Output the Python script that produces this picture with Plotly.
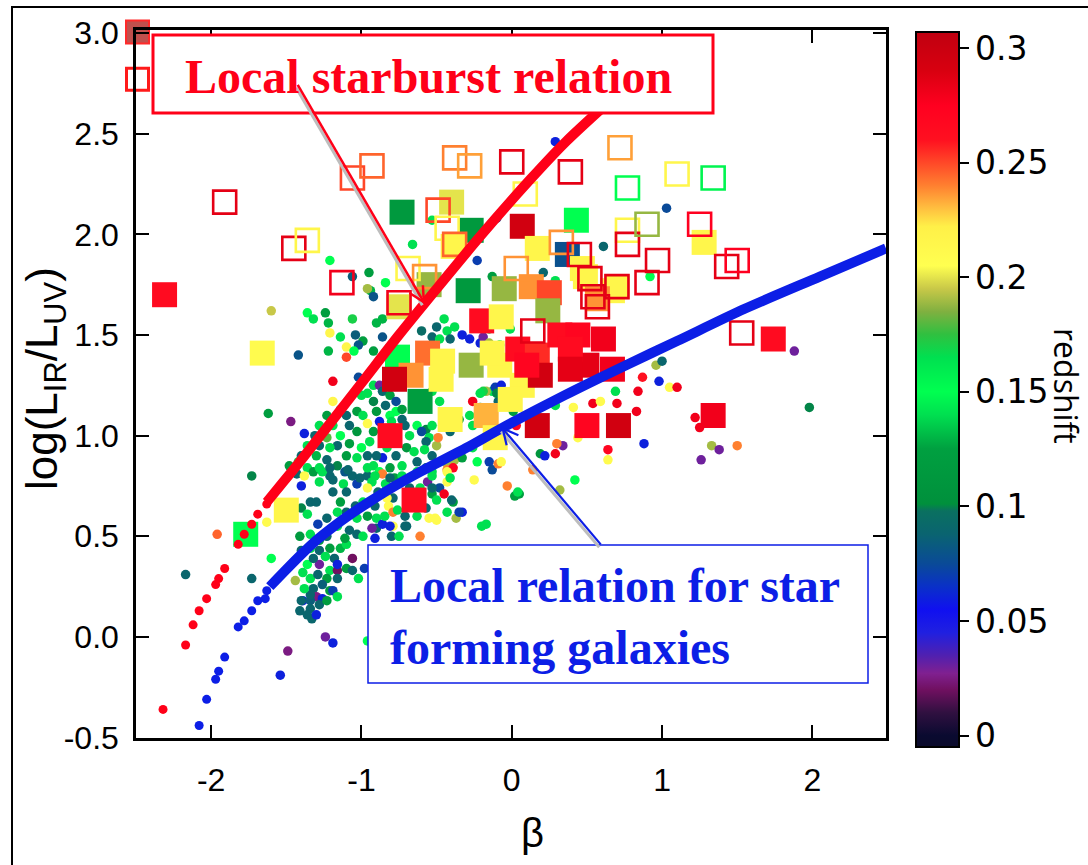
import math
import plotly.graph_objects as go

# ---------------- data ----------------
# SDSS-like comparison sample (small dots): UV slope, log(L_IR/L_UV), redshift
dot_beta = [
    -1.60, -1.36, -1.32, -1.24, -1.22, -1.21, -1.06, -1.04, -0.99, -1.02,
    -1.10, -1.05, -1.10, -1.22, -1.42, -1.19, -1.19, -1.02, -1.62, -1.47,
    -1.38, -0.90, -0.86, -0.86, -0.95, -1.06, -0.84, -0.94, -0.92, -0.60,
    -0.53, -1.00, -0.96, -0.92, -0.88, -0.86, -0.81, -0.77, -0.92, -0.90,
    -0.84, -0.81, -0.77, -0.73, -1.03, -0.99, -1.08, -1.03, -0.96, -0.92,
    -0.88, -0.945, -1.00, -1.08, -1.14, -1.16, -1.21, -1.23, -1.28, -1.30,
    -1.23, -1.16, -1.10, -1.03, -0.96, -0.92, -0.88, -1.11, -1.36, -1.32,
    -1.43, -1.73, -0.86, -0.70, -0.65, -0.68, -0.71, -0.63, -0.57, -0.53,
    -0.60, -0.55, -0.57, -0.50, -0.58, -0.63, -0.53, -2.17, -1.96, -1.73,
    -1.60, -1.63, -1.44, -1.40, -1.34, -1.30, -1.38, -1.28, -1.21, -1.19,
    -1.12, -1.10, -1.14, -1.06, -1.03, -0.96, -0.93, -0.86, -0.96, -0.89,
    -0.83, -0.79, -0.77, -0.56, -0.53, -1.40, -1.36, -1.29, -1.34, -1.41,
    -1.23, -1.40, -1.36, -1.28, -1.28, -1.24, -1.21, -1.18, -1.14, -1.10,
    -1.11, -1.06, -1.21, -1.16, -1.16, -1.23, -1.26, -1.32, -1.30, -1.26,
    -1.21, -1.19, -1.16, -1.39, -1.34, -1.41, -1.34, -1.33, -1.24, -1.19,
    -1.49, -1.54, -0.96, -1.02, -0.98, -1.03, -0.90, -0.90, -0.86, -0.80,
    -0.75, -0.79, -0.70, -0.61, -0.93, -0.91, -0.845, -0.82, -0.55, -0.51,
    -0.26, -0.23, -0.15, -0.13, -0.09, -0.07, -0.43, -0.38, -0.43, -0.39,
    -0.53, -0.43, -0.48, -0.45, -0.53, -0.39, -0.43, -0.37, -0.33, -0.50,
    -0.25, -0.20, -0.17, -0.03, 0.02, 0.05, 0.19, 0.22, 0.14, 0.29,
    0.34, 0.30, 0.42, 0.32, 0.64, 0.64, 0.29, 0.41, 0.54, 0.59,
    0.69, 0.70, 0.83, 0.84, 0.87, 0.96, 1.00, 0.98, 1.05, 1.10,
    0.88, 1.22, 1.25, 1.33, 1.38, 1.26, 1.50, 1.88, 1.98, 0.44,
    -0.28, -0.21, -0.13, -0.17, -0.11, -0.09, -0.05, 0.02, 0.01, 0.03,
    -0.26, -0.35, -0.46, -0.49, -0.41, -0.43, -0.33, -0.41, -0.40, -0.35,
    0.04, -0.84, -0.78, -0.83, -0.79, -0.71, -0.81, 0.29, 1.03, 0.61,
    -0.10, -0.53, -0.66, -0.23, -0.13, 0.21, 0.92, 0.29, -0.45, -0.50,
    -0.43, -0.38, -0.33, -0.41, -0.28, -0.21, -0.19, -0.15, -0.08, -0.01,
    -0.15, -0.48, -0.07, -0.10, -0.19, -0.26, -0.21, -0.53, -0.48, -1.21,
    -0.96, -1.14, -0.92,
    # dense core between the two relations
    -1.28, -1.19, -1.09, -1.01, -0.91, -0.81, -0.73, -0.68, -0.61, -0.50,
    -0.57, -0.63, -0.71, -0.76, -0.91, -0.99, -1.04, -0.96, -1.03, -1.10,
    -1.16, -1.23, -1.16, -1.08, -0.99, -1.28, -1.34, -1.32, -1.39, -1.34,
    -1.29, -1.16, -1.10, -1.06, -1.34, -1.38, -1.40, -1.36, -1.30, -1.28,
    -1.23, -1.14, -1.10, -1.19, -1.23, -1.28, -1.31, -1.36, -1.40, -1.42,
    -1.48, -1.26, -1.21, -0.96, -0.90, -0.83, -0.77, -0.73, -0.81, -0.76,
    -0.86, -0.80, -0.73, -0.53, -0.63, -0.57,
]
dot_irx = [
    1.62, 1.61, 1.58, 1.61, 1.56, 1.51, 1.58, 1.50, 1.47, 1.45,
    1.44, 1.42, 1.39, 1.42, 1.40, 1.27, 1.17, 1.29, 1.11, 1.07,
    1.01, 1.56, 1.58, 1.49, 1.81, 1.79, 1.76, 1.72, 1.69, 1.52,
    1.49, 1.20, 1.21, 1.25, 1.25, 1.22, 1.20, 1.17, 1.17, 1.12,
    1.15, 1.10, 1.12, 1.13, 1.12, 1.10, 1.05, 1.02, 1.06, 1.02,
    1.07, 0.97, 0.94, 0.96, 1.00, 0.95, 0.94, 0.99, 0.95, 0.90,
    0.88, 0.85, 0.90, 0.89, 0.90, 0.85, 0.82, 0.82, 0.84, 0.82,
    0.81, 0.80, 0.89, 0.94, 0.92, 1.00, 1.05, 1.05, 1.03, 1.05,
    1.02, 0.99, 0.97, 0.95, 0.93, 0.87, 0.90, 0.31, 0.51, 0.29,
    0.39, 0.57, 0.28, 0.75, 0.67, 0.67, 0.80, 0.77, 0.80, 0.72,
    0.76, 0.72, 0.67, 0.80, 0.76, 0.80, 0.77, 0.81, 0.74, 0.72,
    0.74, 0.69, 0.78, 0.77, 0.71, 0.64, 0.61, 0.56, 0.51, 0.50,
    0.50, 0.43, 0.36, 0.43, 0.36, 0.40, 0.44, 0.39, 0.44, 0.46,
    0.49, 0.39, 0.33, 0.33, 0.29, 0.29, 0.26, 0.24, 0.20, 0.19,
    0.23, 0.23, 0.20, 0.18, 0.18, 0.13, 0.14, 0.09, 0.00, -0.03,
    -0.07, -0.19, -0.02, 0.29, 0.34, 0.51, 0.59, 0.54, 0.56, 0.50,
    0.50, 0.55, 0.55, 0.50, 0.54, 0.49, 0.60, 0.65, 0.59, 0.59,
    0.94, 0.87, 0.87, 0.83, 0.86, 0.87, 0.86, 0.88, 0.83, 0.84,
    0.82, 0.77, 0.74, 0.71, 0.74, 0.67, 0.62, 0.59, 0.62, 0.58,
    0.78, 0.55, 0.56, 0.75, 0.70, 0.71, 0.91, 0.90, 0.83, 0.91,
    0.95, 0.96, 0.78, 0.73, 0.93, 0.88, 1.15, 1.14, 1.16, 1.17,
    1.22, 1.16, 1.12, 1.22, 1.29, 1.35, 1.37, 1.27, 1.24, 1.24,
    0.96, 1.09, 1.04, 0.95, 0.93, 0.88, 0.95, 1.42, 1.14, 0.99,
    1.10, 1.14, 1.22, 1.22, 1.24, 1.17, 1.19, 1.18, 1.12, 1.05,
    1.05, 1.08, 1.05, 0.99, 1.02, 0.82, 0.89, 0.79, 0.68, 0.62,
    0.72, 0.76, 0.79, 0.69, 0.62, 0.55, 0.55, 2.46, 2.13, 1.94,
    2.08, 2.07, 1.95, 1.87, 1.79, 1.81, 1.79, 1.77, 1.58, 1.54,
    1.52, 1.54, 1.50, 1.48, 1.48, 1.46, 1.49, 1.46, 1.45, 1.53,
    1.53, 1.48, 1.25, 1.21, 1.22, 1.17, 1.21, 1.22, 1.17, 1.87,
    1.73, 1.49, 1.42,
    0.84, 0.78, 0.83, 0.79, 0.80, 0.79, 0.80, 0.74, 0.74, 0.68,
    0.64, 0.60, 0.60, 0.63, 0.65, 0.67, 0.65, 0.60, 0.59, 0.62,
    0.62, 0.59, 0.55, 0.53, 0.50, 0.48, 0.44, 0.39, 0.32, 0.29,
    0.31, 0.36, 0.34, 0.33, 0.21, 0.24, 0.18, 0.11, 0.11, 0.16,
    0.18, 1.13, 1.10, 1.05, 1.10, 1.05, 1.00, 0.95, 0.90, 0.87,
    0.85, 0.82, 0.84, 0.84, 0.90, 0.94, 0.90, 0.85, 0.84, 1.03,
    1.02, 1.07, 1.08, 0.80, 0.82, 0.84,
]
dot_z = [
    0.195, 0.15, 0.14, 0.12, 0.13, 0.215, 0.17, 0.085, 0.12, 0.08,
    0.215, 0.15, 0.25, 0.13, 0.08, 0.28, 0.215, 0.075, 0.12, 0.025,
    0.06, 0.13, 0.13, 0.08, 0.12, 0.085, 0.15, 0.13, 0.08, 0.095,
    0.09, 0.14, 0.14, 0.14, 0.03, 0.09, 0.12, 0.075, 0.10, 0.115,
    0.09, 0.15, 0.15, 0.12, 0.12, 0.14, 0.09, 0.11, 0.21, 0.12,
    0.06, 0.14, 0.15, 0.12, 0.15, 0.09, 0.14, 0.18, 0.09, 0.13,
    0.09, 0.10, 0.12, 0.14, 0.09, 0.14, 0.15, 0.08, 0.14, 0.12,
    0.09, 0.10, 0.06, 0.11, 0.14, 0.14, 0.09, 0.15, 0.10, 0.14,
    0.075, 0.14, 0.09, 0.19, 0.14, 0.09, 0.09, 0.09, 0.245, 0.09,
    0.15, 0.21, 0.19, 0.06, 0.09, 0.09, 0.21, 0.14, 0.09, 0.09,
    0.14, 0.09, 0.12, 0.09, 0.07, 0.09, 0.14, 0.24, 0.21, 0.09,
    0.13, 0.09, 0.06, 0.03, 0.12, 0.10, 0.14, 0.07, 0.14, 0.115,
    0.09, 0.09, 0.15, 0.09, 0.03, 0.14, 0.12, 0.09, 0.13, 0.14,
    0.12, 0.02, 0.14, 0.02, 0.09, 0.12, 0.085, 0.09, 0.025, 0.06,
    0.12, 0.07, 0.14, 0.06, 0.085, 0.09, 0.09, 0.09, 0.03, 0.06,
    0.025, 0.06, 0.15, 0.14, 0.07, 0.09, 0.14, 0.09, 0.06, 0.09,
    0.14, 0.21, 0.09, 0.24, 0.03, 0.06, 0.14, 0.21, 0.21, 0.21,
    0.14, 0.15, 0.07, 0.075, 0.24, 0.21, 0.19, 0.19, 0.24, 0.27,
    0.14, 0.21, 0.075, 0.28, 0.09, 0.12, 0.14, 0.19, 0.06, 0.21,
    0.21, 0.14, 0.14, 0.24, 0.12, 0.12, 0.11, 0.06, 0.24, 0.28,
    0.03, 0.24, 0.15, 0.19, 0.27, 0.21, 0.14, 0.21, 0.28, 0.21,
    0.14, 0.28, 0.28, 0.28, 0.26, 0.19, 0.09, 0.06, 0.21, 0.28,
    0.06, 0.28, 0.28, 0.19, 0.03, 0.03, 0.24, 0.03, 0.10, 0.21,
    0.14, 0.12, 0.14, 0.19, 0.07, 0.09, 0.14, 0.28, 0.12, 0.27,
    0.14, 0.12, 0.14, 0.24, 0.09, 0.21, 0.12, 0.14, 0.09, 0.07,
    0.14, 0.14, 0.12, 0.21, 0.24, 0.09, 0.06, 0.06, 0.075, 0.09,
    0.075, 0.14, 0.14, 0.07, 0.12, 0.09, 0.15, 0.14, 0.14, 0.09,
    0.14, 0.14, 0.06, 0.09, 0.06, 0.06, 0.03, 0.19, 0.14, 0.14,
    0.14, 0.14, 0.06, 0.10, 0.17, 0.28, 0.14, 0.14, 0.14, 0.15,
    0.19, 0.14, 0.12,
    0.14, 0.09, 0.09, 0.09, 0.14, 0.09, 0.14, 0.09, 0.14, 0.14,
    0.09, 0.14, 0.09, 0.14, 0.09, 0.14, 0.09, 0.12, 0.14, 0.09,
    0.14, 0.09, 0.14, 0.09, 0.14, 0.12, 0.14, 0.09, 0.14, 0.14,
    0.09, 0.06, 0.12, 0.09, 0.09, 0.14, 0.09, 0.09, 0.06, 0.09,
    0.12, 0.14, 0.09, 0.14, 0.12, 0.14, 0.09, 0.14, 0.09, 0.14,
    0.12, 0.14, 0.09, 0.14, 0.09, 0.14, 0.09, 0.14, 0.12, 0.14,
    0.09, 0.14, 0.09, 0.14, 0.14, 0.09,
]

# Galaxies with full IR + UV measurements (filled squares)
filled_beta = [
    -2.31, -1.66, -1.50, -1.77, -0.81, -0.76, -0.56, -0.67, -0.61, -0.75,
    -0.78, -0.55, -0.73, -0.40, -0.27, 0.07, 0.43, 0.17, 0.37, 1.28,
    0.47, -0.29, -0.05, 0.13, 0.25, 0.70, -0.39, 0.24, -0.20, -0.07,
    0.49, -0.08, -0.27, -0.13, 0.07, -0.46, -0.47, -0.41, -0.17, -0.11,
    -0.01, 0.04, 0.17, 0.32, 0.44, 0.61, 0.50, 0.67, 0.19, 0.10,
    0.39, 0.39, 0.17, 0.50, 0.71, 1.74, 1.34, -0.65, 0.67, 0.57,
]
filled_irx = [
    1.70, 1.41, 0.63, 0.51, 1.00, 1.39, 1.41, 1.30, 1.17, 1.64,
    1.28, 1.75, 2.11, 2.16, 2.02, 2.04, 2.07, 1.93, 1.90, 1.96,
    1.83, 1.72, 1.73, 1.74, 1.71, 1.74, 1.94, 1.62, 1.57, 1.59,
    1.79, 1.35, 1.35, 1.41, 1.25, 1.37, 1.28, 1.08, 1.10, 0.99,
    1.18, 1.43, 1.40, 1.50, 1.50, 1.48, 1.35, 1.33, 1.30, 1.35,
    1.43, 1.33, 1.05, 1.05, 1.05, 1.48, 1.10, 0.68, 1.72, 1.68,
]
filled_z = [
    0.265, 0.21, 0.215, 0.15, 0.265, 0.15, 0.243, 0.237, 0.12, 0.20,
    0.295, 0.188, 0.115, 0.20, 0.115, 0.295, 0.15, 0.215, 0.078, 0.215,
    0.215, 0.115, 0.188, 0.237, 0.25, 0.215, 0.215, 0.188, 0.265, 0.215,
    0.215, 0.215, 0.188, 0.215, 0.215, 0.215, 0.215, 0.215, 0.232, 0.215,
    0.215, 0.265, 0.255, 0.265, 0.27, 0.28, 0.285, 0.28, 0.295, 0.27,
    0.265, 0.285, 0.295, 0.27, 0.295, 0.265, 0.28, 0.265, 0.215, 0.237,
]

# Galaxies with IR upper limits / partial coverage (open squares)
open_beta = [
    -1.91, -1.45, -1.36, -1.06, -0.93, -1.13, -0.75, -0.38, -0.28, 0.00,
    0.39, 0.72, 0.77, 1.10, 1.34, -0.49, 0.09, -0.43, -0.38, 0.33,
    0.45, 0.77, 0.77, 0.90, 1.25, 0.97, 1.43, 1.50, 0.52, 0.70,
    0.90, 0.03, -0.69, -0.58, 1.53, 0.54, 0.57, 0.14,
]
open_irx = [
    2.16, 1.93, 1.97, 2.28, 2.34, 1.76, 1.66, 2.38, 2.34, 2.36,
    2.31, 2.43, 2.23, 2.30, 2.28, 2.12, 2.20, 2.03, 1.95, 1.96,
    1.90, 2.02, 1.95, 2.05, 2.05, 1.87, 1.84, 1.87, 1.78, 1.74,
    1.76, 1.83, 1.83, 1.79, 1.51, 1.69, 1.64, 1.52,
]
open_z = [
    0.285, 0.285, 0.215, 0.25, 0.245, 0.28, 0.28, 0.24, 0.235, 0.285,
    0.285, 0.235, 0.15, 0.215, 0.155, 0.25, 0.215, 0.215, 0.245, 0.237,
    0.285, 0.215, 0.285, 0.188, 0.275, 0.285, 0.285, 0.275, 0.285, 0.285,
    0.285, 0.237, 0.215, 0.237, 0.285, 0.285, 0.285, 0.285,
]

# Symbol key in the upper-left corner
key_beta = [-2.49, -2.49]
key_irx = [3.005, 2.77]

# Local starburst relation (isolated points at the blue end, then dense track)
starburst_dot_beta = [-2.32, -2.17, -2.12, -2.08, -2.03, -1.97, -1.95, -1.91,
                      -1.82, -1.78, -1.73, -1.69, -1.63]
starburst_dot_irx = [-0.36, -0.04, 0.06, 0.13, 0.19, 0.26, 0.29, 0.34,
                     0.46, 0.51, 0.56, 0.61, 0.66]
starburst_line_beta = [-1.63, -1.52, -1.40, -1.21, -0.99, -0.75, -0.51, -0.21,
                       0.12, 0.36, 0.62]
starburst_line_irx = [0.67, 0.77, 0.88, 1.06, 1.27, 1.50, 1.72, 1.99,
                      2.27, 2.46, 2.64]

# Local relation for star-forming galaxies
local_dot_beta = [-2.08, -2.03, -1.97, -1.95, -1.91, -1.82, -1.78, -1.73,
                  -1.69, -1.64, -1.63]
local_dot_irx = [-0.44, -0.31, -0.21, -0.17, -0.10, 0.05, 0.08, 0.13,
                 0.18, 0.19, 0.23]
local_line_beta = [-1.61, -1.50, -1.40, -1.30, -1.20, -1.10, -0.95, -0.80,
                   -0.61, -0.30, -0.06, 0.35, 0.76, 1.10, 1.55, 2.05, 2.49]
local_line_irx = [0.25, 0.335, 0.41, 0.48, 0.54, 0.595, 0.67, 0.74,
                  0.82, 0.94, 1.04, 1.20, 1.35, 1.47, 1.63, 1.79, 1.93]

# Pointer arrows (tail, tip) in data coordinates
starburst_arrow = ((-1.424, 2.743), (-0.585, 1.663))
local_arrow = ((0.592, 0.460), (-0.06, 1.035))

# Axis ticks
x_range = [-2.5, 2.49]
y_range = [-0.502, 3.015]
x_tick_vals = [-2, -1, 0, 1, 2]
x_tick_text = ["-2", "-1", "0", "1", "2"]
y_tick_vals = [-0.5, 0.0, 0.5, 1.0, 1.5, 2.0, 2.5, 3.0]
y_tick_text = ["-0.5", "0.0", "0.5", "1.0", "1.5", "2.0", "2.5", "3.0"]
z_tick_vals = [0, 0.05, 0.1, 0.15, 0.2, 0.25, 0.3]
z_tick_text = ["0", "0.05", "0.1", "0.15", "0.2", "0.25", "0.3"]

# ---------------- styling ----------------
redshift_scale = [
    [0.000, "#0a0a2a"], [0.016, "#0a0a30"], [0.048, "#301040"],
    [0.080, "#701060"], [0.103, "#802090"], [0.128, "#5020b0"],
    [0.160, "#2020e0"], [0.192, "#1010f0"], [0.224, "#0a30c8"],
    [0.256, "#0a4a98"], [0.298, "#0a6470"], [0.330, "#0a7060"],
    [0.340, "#00903c"], [0.417, "#00a040"], [0.465, "#00e050"],
    [0.497, "#00ff50"], [0.545, "#00e050"], [0.577, "#30c040"],
    [0.609, "#80b040"], [0.641, "#c8c848"], [0.673, "#ffff50"],
    [0.728, "#fff048"], [0.753, "#ffc040"], [0.785, "#ff8030"],
    [0.817, "#ff4828"], [0.849, "#ff1020"], [0.897, "#ff0020"],
    [0.946, "#d80010"], [1.000, "#c00010"],
]
RED = "#ff0018"
BLUE = "#0c1ee6"
SHADOW = "#bdbdbd"
SANS = "Liberation Sans, Arial, sans-serif"

W, H = 1088, 865
ML, MR, MT, MB = 136, 202, 30, 127
PW, PH = W - ML - MR, H - MT - MB
SX = PW / (x_range[1] - x_range[0])   # pixels per unit of beta
SY = PH / (y_range[1] - y_range[0])   # pixels per unit of IRX


def px(xpix):
    return (xpix - ML) / PW


def py(ypix):
    return (H - MB - ypix) / PH


def arrow_shapes(tail, tip, color, width, head=17.0, spread=27.0, shift=(0.0, 0.0),
                 with_head=True):
    """Line plus open chevron head, built in screen space and mapped back to data."""
    (tx, ty), (hx, hy) = tail, tip
    ox, oy = shift[0] / SX, -shift[1] / SY
    tx, ty, hx, hy = tx + ox, ty + oy, hx + ox, hy + oy
    dx, dy = (hx - tx) * SX, (hy - ty) * SY
    n = math.hypot(dx, dy)
    ux, uy = -dx / n, -dy / n
    out = [dict(type="line", xref="x", yref="y", x0=tx, y0=ty, x1=hx, y1=hy,
                line=dict(color=color, width=width), layer="above")]
    if with_head:
        pts = []
        for ang in (spread, -spread):
            a = math.radians(ang)
            bx = ux * math.cos(a) - uy * math.sin(a)
            by = ux * math.sin(a) + uy * math.cos(a)
            pts.append((hx + head * bx / SX, hy + head * by / SY))
        path = "M{:.4f},{:.4f} L{:.4f},{:.4f} L{:.4f},{:.4f}".format(
            pts[0][0], pts[0][1], hx, hy, pts[1][0], pts[1][1])
        out.append(dict(type="path", xref="x", yref="y", path=path,
                        line=dict(color=color, width=width), layer="above"))
    return out


fig = go.Figure()

fig.add_trace(go.Scatter(
    x=dot_beta, y=dot_irx, mode="markers",
    marker=dict(size=9.5, color=dot_z, coloraxis="coloraxis", line=dict(width=0)),
    hoverinfo="skip"))

fig.add_trace(go.Scatter(
    x=filled_beta, y=filled_irx, mode="markers",
    marker=dict(symbol="square", size=25, color=filled_z, coloraxis="coloraxis",
                line=dict(width=0)),
    hoverinfo="skip"))

fig.add_trace(go.Scatter(
    x=open_beta, y=open_irx, mode="markers",
    marker=dict(symbol="square-open", size=23, color=open_z, coloraxis="coloraxis",
                line=dict(width=2.6)),
    hoverinfo="skip"))

# symbol key (partly outside the frame)
fig.add_trace(go.Scatter(
    x=key_beta[:1], y=key_irx[:1], mode="markers", cliponaxis=False,
    marker=dict(symbol="square", size=23, color="#c0504d",
                line=dict(width=2, color="#ff2a2a")),
    hoverinfo="skip"))
fig.add_trace(go.Scatter(
    x=key_beta[1:], y=key_irx[1:], mode="markers", cliponaxis=False,
    marker=dict(symbol="square", size=22, color="white",
                line=dict(width=3, color="#ff1a1a")),
    hoverinfo="skip"))

# relations
fig.add_trace(go.Scatter(
    x=starburst_line_beta, y=starburst_line_irx, mode="lines",
    line=dict(color=RED, width=10, shape="spline", smoothing=0.8), hoverinfo="skip"))
fig.add_trace(go.Scatter(
    x=starburst_dot_beta, y=starburst_dot_irx, mode="markers",
    marker=dict(size=9, color=RED), hoverinfo="skip"))
fig.add_trace(go.Scatter(
    x=local_line_beta, y=local_line_irx, mode="lines",
    line=dict(color=BLUE, width=10, shape="spline", smoothing=0.8), hoverinfo="skip"))
fig.add_trace(go.Scatter(
    x=local_dot_beta, y=local_dot_irx, mode="markers",
    marker=dict(size=9, color=BLUE), hoverinfo="skip"))

axis_common = dict(
    showgrid=False, zeroline=False, showline=True, linecolor="black",
    linewidth=2.5, mirror="ticks", ticks="inside", ticklen=13, tickwidth=2,
    tickcolor="black",
    tickfont=dict(family=SANS, size=32, color="black"),
)

shapes = [
    # outer frame
    dict(type="rect", xref="paper", yref="paper",
         x0=px(12), y0=py(880), x1=px(1100), y1=py(7),
         line=dict(color="black", width=2), layer="below"),
    # label boxes
    dict(type="rect", xref="paper", yref="paper",
         x0=px(153), x1=px(713), y0=py(113), y1=py(35),
         line=dict(color=RED, width=3), fillcolor="white", layer="above"),
    dict(type="rect", xref="paper", yref="paper",
         x0=px(368), x1=px(868), y0=py(683), y1=py(545),
         line=dict(color=BLUE, width=1.5), fillcolor="white", layer="above"),
]
# pointers with a soft grey drop shadow
shapes += arrow_shapes(*starburst_arrow, SHADOW, 3, shift=(-1.5, 3), with_head=False)
shapes += arrow_shapes(*local_arrow, SHADOW, 3, shift=(-1.5, 3), with_head=False)
shapes += arrow_shapes(*starburst_arrow, RED, 2.5)
shapes += arrow_shapes(*local_arrow, BLUE, 2.2)

fig.update_layout(
    width=W, height=H,
    margin=dict(l=ML, r=MR, t=MT, b=MB, autoexpand=False),
    paper_bgcolor="white", plot_bgcolor="white",
    showlegend=False,
    xaxis=dict(range=x_range, tickvals=x_tick_vals, ticktext=x_tick_text,
               ticklabelstandoff=12, **axis_common),
    yaxis=dict(range=y_range, tickvals=y_tick_vals, ticktext=y_tick_text,
               ticklabelstandoff=8, **axis_common),
    coloraxis=dict(
        colorscale=redshift_scale, cmin=-0.005, cmax=0.307,
        colorbar=dict(
            x=px(916), xanchor="left", xpad=0,
            y=py(32), yanchor="top", ypad=0,
            len=715, lenmode="pixels", thickness=43, thicknessmode="pixels",
            outlinewidth=2, outlinecolor="black",
            ticks="outside", ticklen=9, tickwidth=2, tickcolor="black",
            tickvals=z_tick_vals, ticktext=z_tick_text,
            tickfont=dict(family="DejaVu Sans", size=33, color="black"),
        ),
    ),
    shapes=shapes,
)

serif_bold = dict(family="Liberation Serif, Times New Roman, serif", size=48)
annotations = [
    dict(text="log(L<sub>IR</sub>/L<sub>UV</sub>)", xref="paper", yref="paper",
         x=px(45), y=py(379), textangle=-90, showarrow=False,
         xanchor="center", yanchor="middle",
         font=dict(family=SANS, size=44, color="black")),
    dict(text="β", xref="paper", yref="paper", x=px(532), y=py(833),
         showarrow=False, xanchor="center", yanchor="middle",
         font=dict(family=SANS, size=40, color="black")),
    dict(text="redshift", xref="paper", yref="paper", x=px(1066), y=py(386),
         textangle=90, showarrow=False, xanchor="center", yanchor="middle",
         font=dict(family="Open Sans, sans-serif", size=32, color="black")),
    dict(text="<b>Local starburst relation</b>", xref="paper", yref="paper",
         x=px(428), y=py(76), showarrow=False, xanchor="center", yanchor="middle",
         font=dict(color=RED, **serif_bold)),
    dict(text="<b>Local relation for star<br>forming galaxies</b>", xref="paper",
         yref="paper", x=px(388), y=py(616), showarrow=False, align="left",
         xanchor="left", yanchor="middle",
         font=dict(color=BLUE, **serif_bold)),
]
fig.update_layout(annotations=annotations)

fig.write_html("out.html")
